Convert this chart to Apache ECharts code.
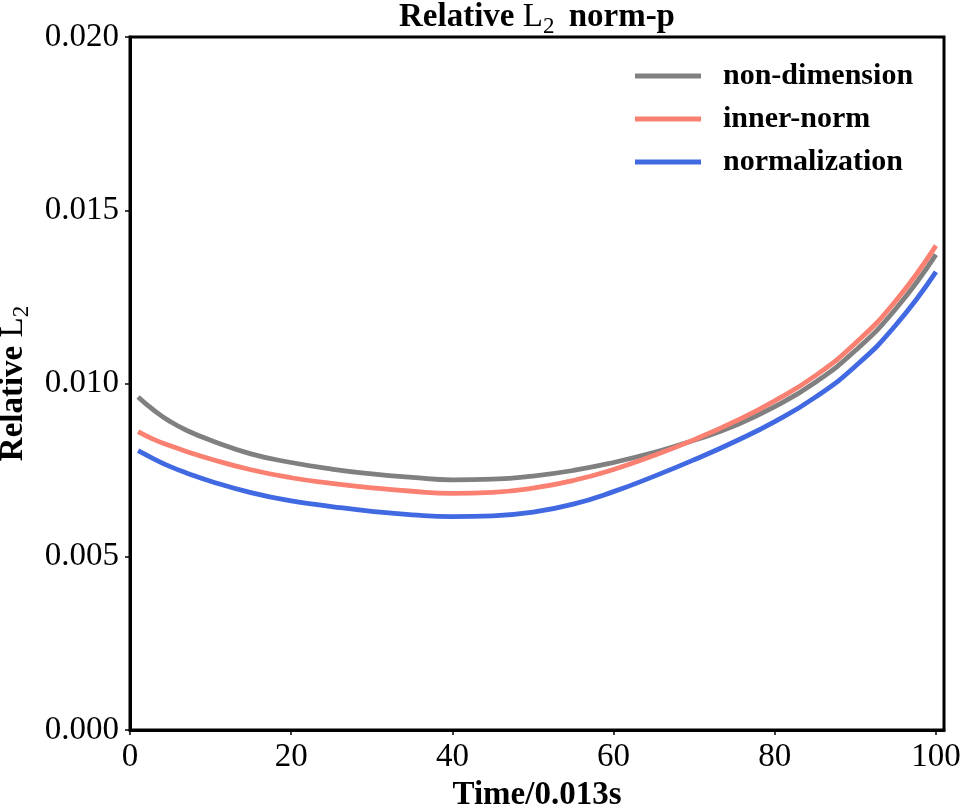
<!DOCTYPE html>
<html>
<head>
<meta charset="utf-8">
<script src="https://cdn.jsdelivr.net/npm/echarts@6/dist/echarts.min.js"></script>
<style>
html,body{margin:0;padding:0;background:#fff;}
#chart{width:962px;height:806px;}
</style>
</head>
<body>
<div id="chart"></div>
<script>
const timeSteps = [1, 3, 5, 7, 10, 15, 20, 25, 30, 35, 40, 45, 50, 55, 60, 65, 70, 75, 80, 85, 90, 95, 100];
const nonDimension = [0.00961, 0.00922, 0.00890, 0.00865, 0.00836, 0.00797, 0.00772, 0.00753, 0.00739, 0.00729, 0.00722, 0.00724, 0.00733, 0.00749, 0.00772, 0.00801, 0.00836, 0.00878, 0.00933, 0.01003, 0.01095, 0.01215, 0.01372];
const innerNorm = [0.00861, 0.00838, 0.00820, 0.00804, 0.00782, 0.00751, 0.00728, 0.00712, 0.00699, 0.00689, 0.00683, 0.00686, 0.00698, 0.00720, 0.00752, 0.00792, 0.00838, 0.00890, 0.00950, 0.01022, 0.01116, 0.01238, 0.01398];
const normalization = [0.00806, 0.00782, 0.00760, 0.00742, 0.00718, 0.00685, 0.00661, 0.00645, 0.00631, 0.00621, 0.00616, 0.00618, 0.00629, 0.00652, 0.00688, 0.00732, 0.00780, 0.00832, 0.00890, 0.00960, 0.01050, 0.01168, 0.01322];
const seriesNames = ['non-dimension', 'inner-norm', 'normalization'];
const seriesColors = ['#808080', '#fa8072', '#4169e1'];
const xTicks = [0, 20, 40, 60, 80, 100];
const yTicks = [0, 0.005, 0.010, 0.015, 0.020];

const FONT = 'Liberation Serif, Times New Roman, serif';
const pair = arr => timeSteps.map((t, i) => [t, arr[i]]);
const allValues = [nonDimension, innerNorm, normalization];

const chart = echarts.init(document.getElementById('chart'), null, {renderer: 'canvas'});
const richStyles = {
  b: {fontFamily: FONT, fontWeight: 'bold', fontSize: 33, color: '#000'},
  bs: {fontFamily: FONT, fontWeight: 'bold', fontSize: 33, color: '#000', padding: [0, 0, 0, 6]},
  r: {fontFamily: FONT, fontWeight: 'normal', fontSize: 33, color: '#000'},
  s: {fontFamily: FONT, fontWeight: 'normal', fontSize: 23, color: '#000', padding: [18, 0, 0, 0]}
};
chart.setOption({
  animation: false,
  backgroundColor: '#fff',
  title: {
    text: '{b|Relative }{r|L}{s|2}{bs| norm-p}',
    left: 537,
    top: -3,
    padding: 0,
    textAlign: 'center',
    textStyle: {rich: richStyles, fontFamily: FONT}
  },
  grid: {
    left: 130, top: 37, right: 18, bottom: 76,
    outerBoundsMode: 'none',
    containLabel: false,
    show: true, borderColor: '#000', borderWidth: 3, backgroundColor: 'transparent'
  },
  legend: {
    orient: 'vertical',
    left: 635,
    top: 61,
    padding: 0,
    icon: 'rect',
    itemWidth: 66,
    itemHeight: 5,
    itemGap: 13,
    data: seriesNames,
    textStyle: {fontFamily: FONT, fontWeight: 'bold', fontSize: 30, color: '#000', padding: [0, 0, 0, 17]}
  },
  xAxis: {
    type: 'value',
    min: 0,
    max: 101,
    interval: 20,
    name: 'Time/0.013s',
    nameLocation: 'middle',
    nameGap: 37,
    nameTextStyle: {fontFamily: FONT, fontWeight: 'bold', fontSize: 33, color: '#000'},
    axisLine: {show: true, lineStyle: {color: '#000', width: 3}},
    axisTick: {show: true, length: 5, lineStyle: {color: '#000', width: 1.5}, customValues: xTicks},
    axisLabel: {fontFamily: FONT, fontSize: 33, color: '#000', margin: 11, customValues: xTicks},
    splitLine: {show: false}
  },
  yAxis: {
    type: 'value',
    min: 0,
    max: 0.02,
    interval: 0.005,
    name: '{b|Relative }{r|L}{s|2}',
    nameLocation: 'middle',
    nameRotate: 90,
    nameGap: 89,
    nameTextStyle: {rich: richStyles},
    axisLine: {show: true, lineStyle: {color: '#000', width: 3}},
    axisTick: {show: true, length: 5, lineStyle: {color: '#000', width: 1.5}, customValues: yTicks},
    axisLabel: {fontFamily: FONT, fontSize: 33, color: '#000', margin: 11, customValues: yTicks,
      formatter: v => v.toFixed(3)},
    splitLine: {show: false}
  },
  series: seriesNames.map((name, i) => ({
    name: name,
    type: 'line',
    data: pair(allValues[i]),
    smooth: 0.5,
    symbol: 'none',
    lineStyle: {color: seriesColors[i], width: 4.8},
    itemStyle: {color: seriesColors[i]},
    z: i === 1 ? 3 : 2
  }))
});
</script>
</body>
</html>
